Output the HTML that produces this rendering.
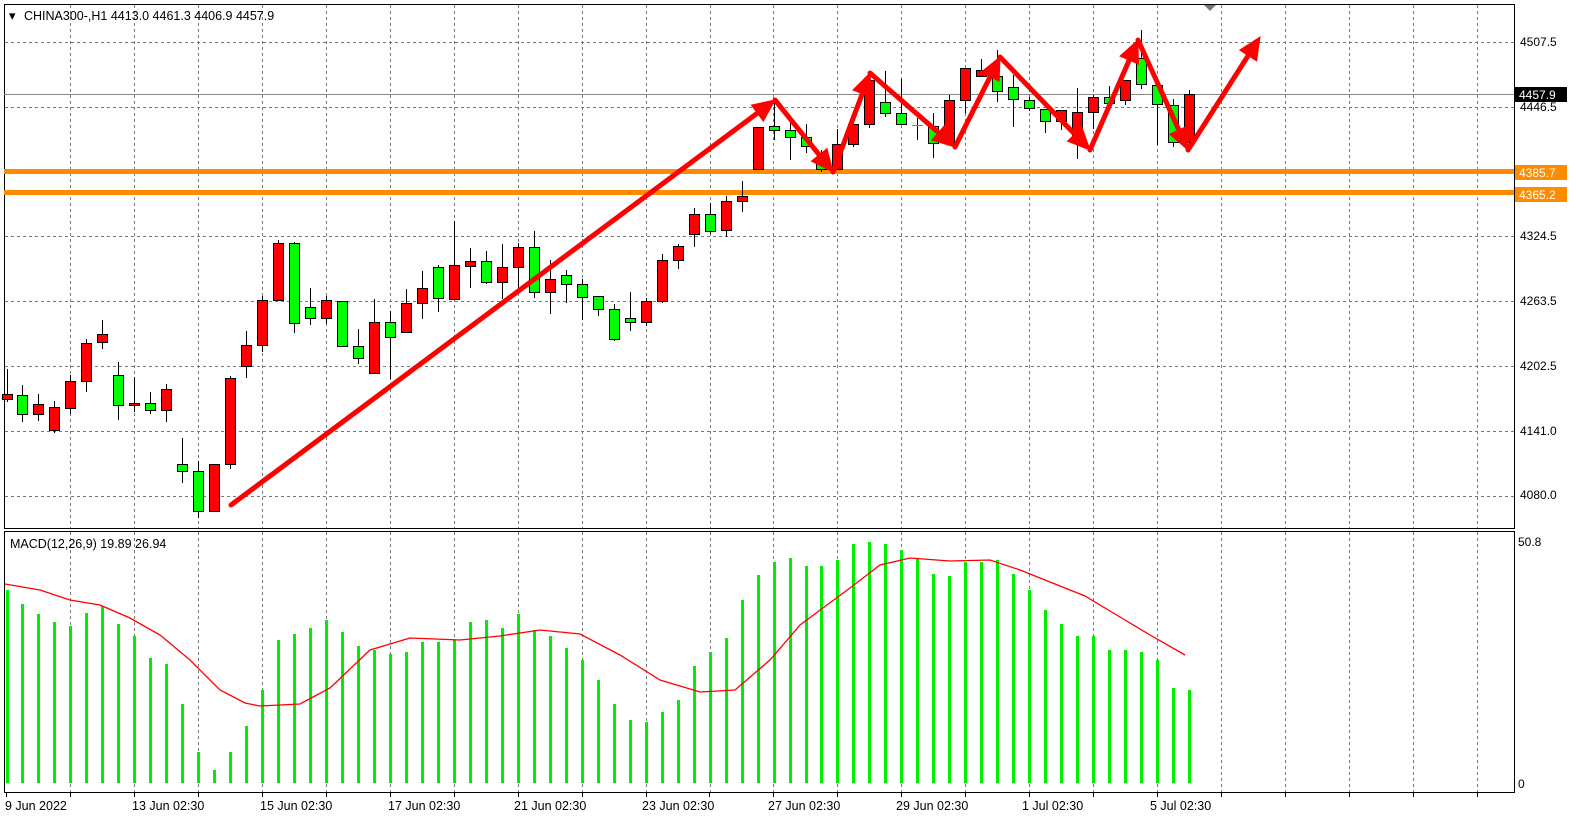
<!DOCTYPE html>
<html><head><meta charset="utf-8"><style>
html,body{margin:0;padding:0;background:#fff;}
svg{display:block;font-family:"Liberation Sans",sans-serif;}
</style></head><body>
<svg id="s" width="1576" height="825" viewBox="0 0 1576 825" xmlns="http://www.w3.org/2000/svg">
<rect x="0" y="0" width="1576" height="825" fill="#fff"/>
<g id="grid" stroke="#777" stroke-width="1" stroke-dasharray="3,3"></g>
<rect x="4.5" y="4.5" width="1510" height="524" fill="none" stroke="#000"/>
<rect x="4.5" y="531.5" width="1510" height="261" fill="none" stroke="#000"/>
<line x1="4" y1="94.5" x2="1514" y2="94.5" stroke="#888" stroke-width="1"/>
<rect x="4" y="169" width="1510" height="5" fill="#ff8c00"/>
<rect x="4" y="190" width="1510" height="5" fill="#ff8c00"/>
<g id="candles"></g>
<g id="macd"></g>
<polyline id="sig" fill="none" stroke="#ff0000" stroke-width="1.3" points="5,584 40,590 70,600 100,605 130,618 160,635 190,660 220,690 245,703 260,706 300,704 330,688 370,650 410,638 460,640 500,636 540,630 580,634 620,655 660,680 700,692 735,690 770,660 800,625 850,588 880,565 910,558 950,561 990,560 1020,570 1050,582 1085,596 1120,617 1150,635 1185,655"/>
<g id="arrows" stroke="#ff0000" stroke-width="5" stroke-linecap="round" fill="#ff0000"></g>
<polygon points="1204,5 1216,5 1210,11" fill="#777"/>
<g font-size="12" fill="#000">
<text x="9" y="20" font-size="13">▾</text>
<text x="24" y="20" font-size="12.5">CHINA300-,H1  4413.0 4461.3 4406.9 4457.9</text>
<text x="1520" y="46">4507.5</text>
<text x="1520" y="111">4446.5</text>
<text x="1520" y="240">4324.5</text>
<text x="1520" y="305">4263.5</text>
<text x="1520" y="370">4202.5</text>
<text x="1520" y="435">4141.0</text>
<text x="1520" y="499">4080.0</text>
<text x="10" y="548" font-size="12.5">MACD(12,26,9) 19.89 26.94</text>
<text x="1518" y="546">50.8</text>
<text x="1518" y="788">0</text>
</g>
<rect x="1515" y="87" width="52" height="15" fill="#000"/>
<text x="1519" y="99" font-size="12" fill="#fff">4457.9</text>
<rect x="1515" y="165" width="52" height="15" fill="#ff8c00"/>
<text x="1519" y="177" font-size="12" fill="#fff">4385.7</text>
<rect x="1515" y="187" width="52" height="15" fill="#ff8c00"/>
<text x="1519" y="199" font-size="12" fill="#fff">4365.2</text>
<g font-size="12.5" fill="#000">
<text x="5" y="810">9 Jun 2022</text>
<text x="132" y="810">13 Jun 02:30</text>
<text x="260" y="810">15 Jun 02:30</text>
<text x="388" y="810">17 Jun 02:30</text>
<text x="514" y="810">21 Jun 02:30</text>
<text x="642" y="810">23 Jun 02:30</text>
<text x="768" y="810">27 Jun 02:30</text>
<text x="896" y="810">29 Jun 02:30</text>
<text x="1022" y="810">1 Jul 02:30</text>
<text x="1150" y="810">5 Jul 02:30</text>
</g>
<g id="ticks" stroke="#000"></g>
</svg>
<script>
var NS="http://www.w3.org/2000/svg";
function el(p,t,a){var e=document.createElementNS(NS,t);for(var k in a)e.setAttribute(k,a[k]);p.appendChild(e);return e;}
var g=document.getElementById('grid');
for(var x=70;x<1514;x+=63.95){var xx=Math.round(x)+0.5;el(g,'line',{x1:xx,y1:5,x2:xx,y2:528});el(g,'line',{x1:xx,y1:532,x2:xx,y2:792});}
[42,107,171,236,301,366,431,496].forEach(function(y){el(g,'line',{x1:5,y1:y+0.5,x2:1514,y2:y+0.5});});
var tk=document.getElementById('ticks');
for(var x=6;x<1514;x+=63.95){var xx=Math.round(x)+0.5;el(tk,'line',{x1:xx,y1:792,x2:xx,y2:797});}
// x, wickTop, bodyTop, bodyBot, wickBot, color
var C=[[394,369,399,402,'r'],[395,385,414,422,'g'],[404,394,414,421,'r'],[407,401,430,433,'r'],[381,375,408,414,'r'],[343,339,381,392,'r'],[334,320,342,349,'r'],[375,362,405,420,'g'],[403,377,405,412,'r'],[403,392,410,414,'g'],[389,384,410,422,'r'],[464,438,471,483,'g'],[471,461,511,518,'g'],[464,464,511,511,'r'],[378,376,464,469,'r'],[345,331,366,378,'r'],[300,296,345,352,'r'],[243,240,300,300,'r'],[243,242,323,333,'g'],[307,288,318,325,'g'],[300,296,318,324,'r'],[301,301,346,346,'g'],[346,329,358,364,'g'],[322,299,373,374,'r'],[322,311,337,379,'g'],[303,289,332,333,'r'],[288,271,303,319,'r'],[267,265,298,312,'g'],[265,221,299,300,'r'],[261,248,266,288,'r'],[261,251,282,284,'g'],[267,244,282,299,'r'],[247,243,267,289,'r'],[247,231,292,298,'g'],[279,260,292,314,'r'],[275,270,284,303,'g'],[284,279,297,320,'g'],[296,296,309,316,'g'],[309,304,339,341,'g'],[318,292,322,331,'g'],[301,298,322,326,'r'],[260,254,301,303,'r'],[246,244,260,269,'r'],[214,208,234,247,'r'],[214,203,231,234,'g'],[201,196,230,237,'r'],[196,181,201,212,'r'],[127,127,169,170,'r'],[126,103,130,140,'g'],[130,120,137,160,'g'],[137,124,146,153,'g'],[157,150,169,172,'g'],[144,129,169,170,'r'],[124,120,144,147,'r'],[80,73,124,128,'r'],[102,71,113,117,'g'],[113,79,124,124,'g'],[125,118,126,140,'g'],[126,113,143,158,'g'],[100,95,143,145,'r'],[68,68,100,113,'r'],[70,59,76,76,'r'],[76,50,91,102,'g'],[87,75,99,127,'g'],[100,97,108,111,'g'],[109,109,121,133,'g'],[110,110,121,130,'r'],[112,88,137,159,'r'],[97,95,112,129,'r'],[97,86,103,103,'g'],[80,80,100,105,'r'],[58,30,84,89,'g'],[85,85,104,145,'g'],[105,99,142,147,'g'],[94,90,142,147,'r']];
var cg=document.getElementById('candles');
C.forEach(function(c,i){var x=Math.round(6.5+15.98*i);var bt=c[0],wt=c[1],bb=c[2],wb=c[3];
 if(wt>bt)wt=bt; if(wb<bb)wb=bb;
 el(cg,'line',{x1:x+0.5,y1:wt,x2:x+0.5,y2:wb,stroke:'#000','stroke-width':1});
 var h=Math.max(bb-bt,2);
 if(i==57){el(cg,'line',{x1:x-5,y1:125.5,x2:x+6,y2:125.5,stroke:'#00e000'});return;}
 el(cg,'rect',{x:x-4.5,y:bt+0.5,width:10,height:h,fill:c[4]=='r'?'#ff0000':'#00ff00',stroke:'#000','stroke-width':1});
});
var M=[590,604,614,622,626,613,606,624,636,658,664,704,752,770,752,726,690,640,634,628,620,632,646,650,654,652,642,642,640,622,620,628,614,630,636,648,660,680,704,720,722,712,700,666,652,638,600,575,562,558,566,566,560,544,542,544,550,558,574,576,562,562,560,574,590,610,624,636,636,650,650,652,660,688,690];
var mg=document.getElementById('macd');
M.forEach(function(y,i){var x=Math.round(6.5+15.98*i);el(mg,'rect',{x:x-1,y:y,width:3,height:783-y,fill:'#00ee00'});});
var ag=document.getElementById('arrows');
function arrow(x1,y1,x2,y2){var dx=x2-x1,dy=y2-y1,L=Math.sqrt(dx*dx+dy*dy),ux=dx/L,uy=dy/L;var hl=22,hw=10;
 var bx=x2-ux*hl,by=y2-uy*hl;
 el(ag,'line',{x1:x1,y1:y1,x2:bx+ux*4,y2:by+uy*4});
 el(ag,'polygon',{points:x2+','+y2+' '+(bx-uy*hw)+','+(by+ux*hw)+' '+(bx+uy*hw)+','+(by-ux*hw),'stroke-width':1});}
arrow(231,505,775,100);
var P=[[775,100],[833,172],[870,73],[955,147],[1000,57],[1090,150],[1138,40],[1188,150],[1260,37]];
for(var i=0;i<P.length-1;i++)arrow(P[i][0],P[i][1],P[i+1][0],P[i+1][1]);
</script>
</body></html>
